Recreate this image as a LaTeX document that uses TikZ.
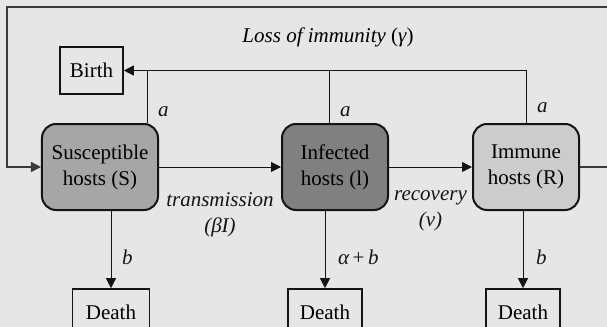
\documentclass[tikz,border=0pt]{standalone}
\usepackage{fontspec}
\setmainfont{Liberation Serif}
\usepackage{tikz}
\usetikzlibrary{arrows.meta, positioning, calc}
\definecolor{mybg}{RGB}{230,230,230}
\definecolor{mydark}{RGB}{20,20,20}
\definecolor{myframe}{RGB}{60,60,60}
\definecolor{fillsus}{RGB}{166,166,166}
\definecolor{fillinf}{RGB}{128,128,128}
\definecolor{fillimm}{RGB}{204,204,204}
\tikzset{
  host/.style={rectangle, draw=mydark, rounded corners=7pt, line width=1pt,
    align=center, minimum width=53pt, minimum height=43pt,
    font=\fontsize{10.5}{13}\selectfont},
  endbox/.style={rectangle, draw=mydark, line width=0.8pt,
    minimum width=37pt, minimum height=23.5pt,
    font=\fontsize{10.5}{13}\selectfont},
  arrow/.style={-{Triangle[length=5pt,width=5pt]}, line width=0.5pt, color=mydark},
  line/.style={line width=0.5pt, color=mydark},
  fbarrow/.style={-{Triangle[length=5pt,width=5pt]}, line width=0.8pt, color=myframe},
  lbl/.style={font=\fontsize{10.5}{13}\selectfont\itshape, align=center}
}

\begin{document}
\begin{tikzpicture}[x=0.5pt, y=-0.5pt]
  \fill[mybg] (0,0) rectangle (607,327);
  \useasboundingbox (0,0) rectangle (607,327);

  \node[host, fill=fillsus, minimum width=58pt] (sus) at (100,167) {Susceptible\\hosts (S)};
  \node[host, fill=fillinf] (inf) at (335,167) {Infected\\hosts (l)};
  \node[host, fill=fillimm] (imm) at (526,167) {Immune\\hosts (R)};

  \node[endbox, minimum width=31.5pt] (birth) at (91.5,70.5) {Birth};
  \node[endbox, minimum width=38.5pt] (dsus) at (111,312.5) {Death};
  \node[endbox] (dinf) at (325,312.5) {Death};
  \node[endbox] (dimm) at (523,312.5) {Death};

  \draw[arrow] (sus.east) -- (inf.west)
    node[lbl, pos=0.5, below=9pt] {transmission\\(βI)};
  \draw[arrow] (inf.east) -- (imm.west)
    node[lbl, pos=0.5, below=8pt] {recovery\\(v)};

  % births
  \draw[arrow] (imm.north) |- (birth.east)
    node[lbl, pos=0.15, right=2pt] {a};
  \draw[line] ([xshift=-3pt]inf.north) -- ([xshift=-3pt]inf.north |- birth.east)
    node[lbl, pos=0.22, right=2pt] {a};
  \draw[line] ([xshift=-6pt]sus.north east) -- ([xshift=-6pt]sus.north east |- birth.east)
    node[lbl, pos=0.22, right=2pt] {a};

  % deaths
  \draw[arrow] (dsus.north |- sus.south) -- (dsus.north)
    node[lbl, pos=0.6, right=2pt] {b};
  \draw[arrow] (dinf.north |- inf.south) -- (dinf.north)
    node[lbl, pos=0.6, right=3pt] {α\,{\upshape+}\,b};
  \draw[arrow] (dimm.north |- imm.south) -- (dimm.north)
    node[lbl, pos=0.6, right=3pt] {b};

  % loss of immunity
  \coordinate (fr) at (620,7);
  \coordinate (fl) at (7,7);
  \draw[fbarrow] (imm.east) -| (fr) -- (fl) |- (sus.west);
  \node[lbl] (loss) at (328,37) {Loss of immunity {\upshape(}γ{\upshape)}};
\end{tikzpicture}
\end{document}
